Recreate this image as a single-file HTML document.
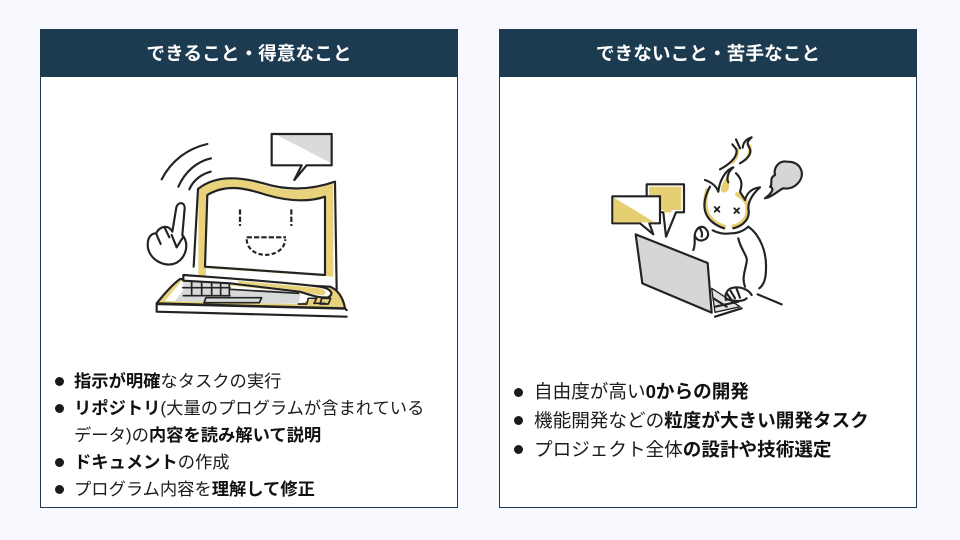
<!DOCTYPE html>
<html lang="ja"><head><meta charset="utf-8"><style>
html,body{margin:0;padding:0;width:960px;height:540px;overflow:hidden;background:#f8f9fe}
body{font-family:"Liberation Sans","Noto Sans CJK JP",sans-serif;color:#1c1c1c;position:relative}
.card{position:absolute;top:29px;width:416px;height:477px;background:#fff;border:1px solid #1c3a50}
.head{position:absolute;left:-1px;top:-1px;width:418px;height:48px;background:#1c3a50;color:#fff;font-size:18.7px;font-weight:bold;line-height:48px;text-align:center;font-family:"Noto Sans CJK JP",sans-serif}
.t{position:absolute;white-space:nowrap;font-family:"Liberation Sans","Noto Sans CJK JP",sans-serif}
.l{font-size:17.3px;line-height:27px;height:27px}
.r{font-size:18.6px;line-height:28px;height:28px}
.b{position:absolute;width:9px;height:9px;border-radius:50%;background:#1a1a1a}
b{font-weight:bold;color:#111}
svg{position:absolute;left:0;top:0}
</style></head><body>
<div class="card" style="left:40px"><div class="head">できること・得意なこと</div></div>
<div class="card" style="left:499px"><div class="head">できないこと・苦手なこと</div></div>

<svg width="960" height="540" viewBox="0 0 960 540" fill="none" stroke-linecap="round" stroke-linejoin="round">
<g transform="translate(130,120) scale(.33333)" stroke="#232323" stroke-width="6.5">
<path d="M440 45H605V130Z" fill="#d9dada" stroke="none"/>
<path d="M515 136 493 180 530 136H605V42H425V136Z"/>
<path d="M95 178C125 120 175 85 232 72M145 200C165 155 200 125 243 115M178 208C190 180 215 162 242 155"/>
<path d="M205 205C255 165 330 170 400 195C480 220 550 210 610 188V470L228 445 228 470H205Z" fill="#e8d37c" stroke="none"/>
<path d="M232 225C290 190 350 205 410 225C480 245 540 245 585 230V465L225 440Z" fill="#fff"/>
<path d="M191 440 204 207C255 165 330 170 400 190C480 215 550 208 615 185L620 510"/>
<path d="M330 268V318M484 268V318" stroke-dasharray="16 6" stroke-linecap="butt"/>
<path d="M350 352H468" stroke-dasharray="16 6" stroke-linecap="butt"/>
<path d="M350 358C352 420 462 420 466 358" stroke-dasharray="13 7" stroke-linecap="butt"/>
<path d="M127 335 139 262C143 245 165 245 164 265L157 345C178 370 170 410 140 428C105 445 62 420 54 385C50 355 62 340 78 340C90 318 115 312 127 335Z" fill="#fff"/>
<path d="M78 340 92 372M105 325 118 352M125 345 140 382M160 350 140 382"/>
<path d="M150 477 600 500C625 510 640 535 645 565L80 550C100 525 125 495 150 477Z" fill="#e8d37c"/>
<path d="M155 482 585 525 505 552 105 543Z" fill="#fff" stroke="none"/>
<path d="M160 482H300V525H160ZM135 543 160 510H515L505 550H395Z" fill="#d8d9da" stroke="none"/>
<path d="M228 533H395L388 548H222Z" fill="#d8d9da" stroke-width="5"/>
<path d="M185 483V525M215 485V525M245 487V527M272 488V527M298 490V527M158 503H300M160 527H300M300 508 505 520" stroke-width="5"/>
<path d="M160 465C300 475 450 485 570 500C600 505 615 520 595 532C570 535 540 525 510 515L300 490 160 482Z" fill="#fff"/>
<path d="M320 482C400 490 500 497 570 505C590 510 590 520 580 526C555 525 530 518 510 512L330 490Z" fill="#e8d37c" stroke="none"/>
<path d="M505 552 530 552 535 535H560L552 550H585M575 535H602L595 552H570Z" stroke-width="5"/>
<path d="M80 552 645 566 650 570M80 552V575L650 590" fill="#fff"/>
</g>

<g transform="translate(600,125) scale(.33333)" stroke="#232323" stroke-width="6.5">
<path d="M140 178H252V262H228L198 335 190 262H140Z" fill="#fff"/>
<path d="M147 185H244V255H215V262H192V255H147Z" fill="#e6cf72" stroke="none"/>
<path d="M37 214H180V295H148L160 328 120 295H37Z" fill="#fff"/>
<path d="M40 217 165 292H40Z" fill="#e6cf72" stroke="none"/>
<path d="M322 195C310 240 312 285 372 305M400 305C430 298 448 275 442 240C438 225 425 215 412 208" stroke="#e6cf72" stroke-width="13"/>
<path d="M362 195C365 175 375 160 388 150C385 170 390 185 385 195C378 205 365 205 362 195Z" fill="#e6cf72" stroke="none"/>
<path d="M392 112C405 100 415 85 412 70C420 85 410 105 398 115ZM430 110C445 95 448 75 450 58C458 75 450 95 436 108Z" fill="#e6cf72" stroke="#e6cf72" stroke-width="4"/>
<path d="M360 133C385 120 410 100 410 78C410 70 402 66 397 58M408 43 420 70M420 115C445 100 458 85 448 68C442 58 438 52 455 37C440 42 430 50 428 68"/>
<path d="M315 165C335 172 350 185 355 200C358 170 375 135 400 127C385 140 378 158 385 172M408 145C430 165 425 185 420 200C425 210 432 218 435 225C440 205 455 190 480 187C460 205 445 225 445 250C452 280 430 303 400 310"/>
<path d="M330 185C305 230 300 285 372 310"/>
<path d="M344 246 358 260M358 246 344 260M403 250 417 264M417 250 403 264" stroke-width="5.5"/>
<path d="M338 316C355 325 370 328 395 325C415 325 435 315 445 305C480 330 500 380 498 430C498 465 490 480 478 490"/>
<path d="M415 340C420 370 445 395 440 410C435 440 425 460 435 485"/>
<path d="M280 375C290 350 278 335 288 318C295 305 310 298 322 318C328 330 322 342 310 345C298 350 288 342 284 332M300 310C305 320 308 325 305 335"/>
<path d="M545 538 473 508"/>
<path d="M562 110C535 105 520 130 525 150C505 160 520 180 510 185C525 190 515 205 495 220C520 215 535 195 550 190C585 195 610 165 605 140C600 120 585 110 562 110Z" fill="#d5d6d7"/>
<path d="M107 328 323 414 335 563 127 475Z" fill="#d5d6d7"/>
<path d="M335 490 420 545 345 562Z" fill="#e3e3e3" stroke-width="4"/>
<path d="M345 575 425 550M345 545 415 530M340 520 380 545"/>
<path d="M378 525C372 505 385 490 400 488C420 484 445 492 455 510M392 498 405 520M410 492 420 518M380 505 395 525M440 520C430 530 400 530 380 522" />
</g>
</svg>

<div class="b" style="left:55px;top:377px"></div>
<div class="t l" style="left:74px;top:368px"><b>指示が明確</b>なタスクの実行</div>
<div class="b" style="left:55px;top:404px"></div>
<div class="t l" style="left:74px;top:395px"><b>リポジトリ</b>(大量のプログラムが含まれている</div>
<div class="t l" style="left:74px;top:422px">データ)の<b>内容を読み解いて説明</b></div>
<div class="b" style="left:55px;top:458px"></div>
<div class="t l" style="left:74px;top:449px"><b>ドキュメント</b>の作成</div>
<div class="b" style="left:55px;top:485px"></div>
<div class="t l" style="left:74px;top:476px">プログラム内容を<b>理解して修正</b></div>

<div class="b" style="left:514px;top:388px"></div>
<div class="t r" style="left:534px;top:378px">自由度が高い<b>0からの開発</b></div>
<div class="b" style="left:514px;top:416px"></div>
<div class="t r" style="left:534px;top:407px">機能開発などの<b>粒度が大きい開発タスク</b></div>
<div class="b" style="left:514px;top:445px"></div>
<div class="t r" style="left:534px;top:436px">プロジェクト全体<b>の設計や技術選定</b></div>
</body></html>
